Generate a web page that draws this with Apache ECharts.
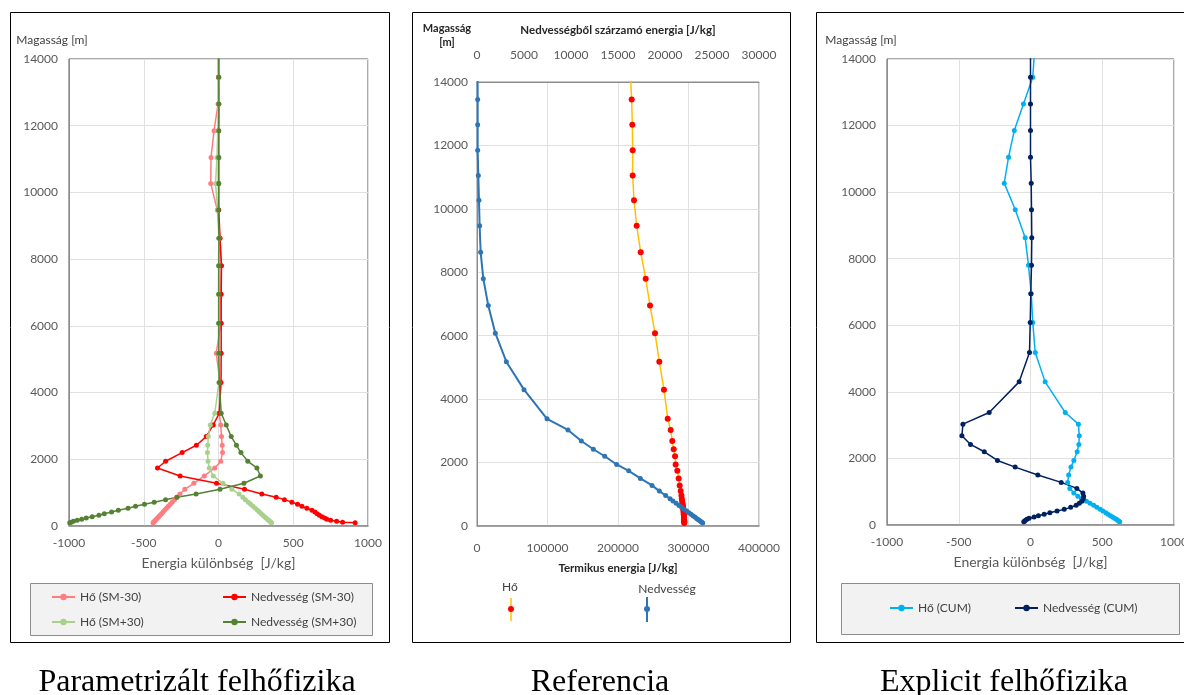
<!DOCTYPE html>
<html><head><meta charset="utf-8">
<script src="https://cdn.jsdelivr.net/npm/echarts@6/dist/echarts.min.js"></script>
<style>html,body{margin:0;padding:0;background:#fff}#c{width:1184px;height:695px}</style>
</head><body><div id="c"></div>
<script>
// Heights of the model levels [m] (first one lies just above the plotted range)
const heights = [14250, 13450, 12650, 11850, 11050, 10270, 9470, 8630, 7800, 6950, 6080, 5180, 4300, 3380, 3030, 2680, 2420, 2200, 1940, 1740, 1500, 1280, 1100, 960, 860, 790, 715, 650, 590, 530, 470, 420, 370, 325, 280, 240, 205, 170, 140, 115, 95];

// Panel 1: Parametrizált felhőfizika  [J/kg]
const hoSMm30  = [0, 0, -3, -30, -50, -52, -8, 10, 18, 15, 16, -15, 10, 5, 15, 20, 25, 27, 15, -25, -95, -165, -225, -258, -280, -294, -310, -323, -336, -348, -361, -371, -381, -391, -400, -408, -416, -423, -429, -434, -438];
const nedSMm30 = [0, 0, 2, 0, 0, 0, 2, 10, 20, 18, 18, 18, 17, 5, -35, -82, -148, -243, -354, -408, -257, -13, 174, 290, 386, 441, 491, 529, 558, 591, 625, 645, 660, 675, 692, 710, 725, 750, 790, 830, 914];
const hoSMp30  = [0, 2, 0, -5, -10, -20, -5, 2, 0, 0, 0, 0, 3, -25, -55, -68, -72, -74, -70, -62, -35, 30, 90, 138, 163, 180, 199, 215, 230, 246, 261, 273, 286, 297, 308, 318, 327, 336, 343, 350, 355];
const nedSMp30 = [2, 2, 2, 2, 2, 2, 0, 3, 2, 2, 2, 2, 5, 18, 52, 85, 120, 150, 196, 257, 280, 170, 10, -150, -278, -354, -430, -495, -555, -605, -670, -715, -764, -800, -845, -885, -915, -945, -970, -985, -995];

// Panel 2: Referencia
const refHo  = [217500, 219400, 220300, 220800, 220800, 222700, 226500, 232200, 239300, 245400, 252500, 258600, 265200, 270500, 274700, 277000, 279000, 280900, 281800, 284100, 286100, 287500, 288900, 290000, 290500, 291000, 291500, 292000, 292300, 292600, 292900, 293100, 293300, 293500, 293600, 293700, 293800, 293900, 294000, 294000, 294000];
const refNed = [60, 70, 70, 70, 140, 210, 280, 390, 670, 1200, 1950, 3120, 5000, 7450, 9680, 11100, 12380, 13590, 14860, 16140, 17380, 18620, 19400, 20070, 20535, 20850, 21190, 21490, 21760, 22030, 22310, 22540, 22770, 22970, 23180, 23360, 23520, 23680, 23810, 23920, 24010];

// Panel 3: Explicit felhőfizika
const cumHo  = [28, 16, -49, -113, -153, -183, -106, -37, -14, 5, 16, 33, 102, 242, 334, 340, 337, 325, 302, 282, 266, 259, 274, 302, 330, 355, 390, 415, 440, 462, 485, 505, 525, 540, 557, 572, 585, 598, 608, 616, 622];
const cumNed = [0, 0, 0, 0, 0, 5, 7, 9, 7, 2, -2, -7, -79, -288, -471, -478, -418, -322, -230, -107, 51, 214, 323, 365, 370, 368, 358, 340, 318, 280, 235, 185, 135, 95, 55, 25, -10, -25, -35, -42, -47];

// Axis ranges [min, max, interval]
const heightAxis = [0, 14000, 2000];
const diffAxis = [-1000, 1000, 500];
const thermAxis = [0, 400000, 100000];
const moistAxis = [0, 30000, 5000];

const captions = ['Parametrizált felhőfizika', 'Referencia', 'Explicit felhőfizika'];

const FONT = 'Lato';
const LBL = {fontFamily: FONT, fontSize: 12, color: '#595959', formatter: v => String(v)};
const pts = vals => vals.map((v, i) => [v, heights[i]]);

function ser(name, vals, lineColor, dotColor, xi, yi, size) {
  return {
    type: 'line', name: name, xAxisIndex: xi, yAxisIndex: yi, data: pts(vals),
    symbol: 'circle', symbolSize: size || 5, showAllSymbol: true,
    lineStyle: {color: lineColor, width: 1.5}, itemStyle: {color: dotColor},
    clip: true, animation: false, emphasis: {disabled: true}
  };
}

function xAx(grid, r, extra) {
  return Object.assign({
    gridIndex: grid, type: 'value', min: r[0], max: r[1], interval: r[2],
    axisLine: {show: true, onZero: false, lineStyle: {color: '#8c8c8c', width: 1.5}},
    axisTick: {show: false},
    axisLabel: Object.assign({margin: 11, hideOverlap: false}, LBL),
    splitLine: {show: true, lineStyle: {color: '#e0e0e0', width: 1}}
  }, extra || {});
}
function yAx(grid, extra) {
  return Object.assign({
    gridIndex: grid, type: 'value', min: heightAxis[0], max: heightAxis[1], interval: heightAxis[2],
    axisLine: {show: true, onZero: false, lineStyle: {color: '#8c8c8c', width: 1}},
    axisTick: {show: false},
    axisLabel: Object.assign({margin: 11}, LBL),
    splitLine: {show: true, lineStyle: {color: '#e0e0e0', width: 1}}
  }, extra || {});
}

const legendText = {fontFamily: FONT, fontSize: 12, color: '#404040', lineHeight: 14};
function leg(names, left, top, orient) {
  return {
    data: names, left: left, top: top, orient: orient || 'vertical', itemGap: 11,
    itemWidth: 23, itemHeight: 8, textStyle: legendText, padding: 0,
    selectedMode: false, inactiveColor: '#ccc'
  };
}

const gridBase = {show: true, borderWidth: 1, backgroundColor: 'transparent', containLabel: false, outerBoundsMode: 'none'};

const option = {
  animation: false,
  backgroundColor: '#ffffff',
  grid: [
    Object.assign({left: 69, width: 299, top: 59, height: 467, borderColor: '#595959'}, gridBase),
    Object.assign({left: 477, width: 282, top: 82, height: 444, borderColor: '#8c8c8c'}, gridBase),
    Object.assign({left: 887, width: 287, top: 59, height: 466, borderColor: '#595959'}, gridBase)
  ],
  xAxis: [
    xAx(0, diffAxis, {name: 'Energia különbség  [J/kg]', nameLocation: 'middle', nameGap: 30,
      nameTextStyle: {fontFamily: FONT, fontSize: 14, color: '#595959'}}),
    xAx(1, thermAxis, {position: 'bottom', name: 'Termikus energia [J/kg]', nameLocation: 'middle', nameGap: 36,
      axisLabel: Object.assign({margin: 16}, LBL),
      nameTextStyle: {fontFamily: FONT, fontSize: 11.5, fontWeight: 'bold', color: '#262626'}}),
    xAx(1, moistAxis, {position: 'top', name: 'Nedvességből szárzamó energia [J/kg]', nameLocation: 'middle', nameGap: 46,
      axisLabel: Object.assign({margin: 21}, LBL), splitLine: {show: false},
      axisLine: {show: true, onZero: false, lineStyle: {color: '#8c8c8c', width: 1}},
      nameTextStyle: {fontFamily: FONT, fontSize: 11.5, fontWeight: 'bold', color: '#262626'}}),
    xAx(2, diffAxis, {name: 'Energia különbség  [J/kg]', nameLocation: 'middle', nameGap: 30,
      nameTextStyle: {fontFamily: FONT, fontSize: 14, color: '#595959'}})
  ],
  yAxis: [
    yAx(0, {name: 'Magasság [m]', nameLocation: 'end', nameGap: 13,
      nameTextStyle: {fontFamily: FONT, fontSize: 12, color: '#404040', align: 'center', padding: [0, 34, 0, 0]}}),
    yAx(1, {name: 'Magasság\n[m]', nameLocation: 'end', nameGap: 20, axisLabel: Object.assign({margin: 9}, LBL),
      nameTextStyle: {fontFamily: FONT, fontSize: 11, fontWeight: 'bold', color: '#262626', align: 'center', lineHeight: 14, padding: [0, 60, 0, 0]}}),
    yAx(2, {name: 'Magasság [m]', nameLocation: 'end', nameGap: 13,
      nameTextStyle: {fontFamily: FONT, fontSize: 12, color: '#404040', align: 'center', padding: [0, 52, 0, 0]}})
  ],
  legend: [
    leg(['Hő (SM-30)', 'Hő (SM+30)'], 51, 590),
    leg(['Nedvesség (SM-30)', 'Nedvesség (SM+30)'], 222, 590),
    leg(['Hő (CUM)'], 889, 601),
    leg(['Nedvesség (CUM)'], 1014, 601)
  ],
  series: [
    ser('Hő (SM-30)', hoSMm30, '#ff7c80', '#ff7c80', 0, 0),
    ser('Nedvesség (SM-30)', nedSMm30, '#ff0000', '#ff0000', 0, 0),
    ser('Hő (SM+30)', hoSMp30, '#a9d18e', '#a9d18e', 0, 0),
    ser('Nedvesség (SM+30)', nedSMp30, '#548235', '#548235', 0, 0),
    ser('Hő', refHo, '#ffc000', '#ff0000', 1, 1, 6),
    Object.assign(ser('Nedvesség', refNed, '#2e75b6', '#2e75b6', 2, 1, 5), {lineStyle: {color: '#2e75b6', width: 2}}),
    ser('Hő (CUM)', cumHo, '#00b0f0', '#00b0f0', 3, 2),
    ser('Nedvesség (CUM)', cumNed, '#002060', '#002060', 3, 2)
  ],
  graphic: [
    // panel frames
    {type: 'rect', shape: {x: 10.5, y: 12.5, width: 379, height: 630}, style: {fill: 'none', stroke: '#000', lineWidth: 1}, z: -1},
    {type: 'rect', shape: {x: 412.5, y: 12.5, width: 378, height: 630}, style: {fill: 'none', stroke: '#000', lineWidth: 1}, z: -1},
    {type: 'rect', shape: {x: 816.5, y: 12.5, width: 380, height: 630}, style: {fill: 'none', stroke: '#000', lineWidth: 1}, z: -1},
    // legend boxes
    {type: 'rect', shape: {x: 30.5, y: 583.5, width: 342, height: 52}, style: {fill: '#f2f2f2', stroke: '#8c8c8c', lineWidth: 1}, z: -1},
    {type: 'rect', shape: {x: 841.5, y: 583.5, width: 338, height: 51}, style: {fill: '#f2f2f2', stroke: '#8c8c8c', lineWidth: 1}, z: -1},
    // panel 2 legend (text above the symbol)
    {type: 'text', x: 510, y: 587, style: {text: 'Hő', font: '12px Lato', fill: '#404040', textAlign: 'center', textVerticalAlign: 'middle'}},
    {type: 'line', shape: {x1: 511, y1: 598, x2: 511, y2: 621}, style: {stroke: '#ffc000', lineWidth: 1.5}},
    {type: 'circle', shape: {cx: 511, cy: 609, r: 3}, style: {fill: '#ff0000'}},
    {type: 'text', x: 667, y: 589, style: {text: 'Nedvesség', font: '12px Lato', fill: '#404040', textAlign: 'center', textVerticalAlign: 'middle'}},
    {type: 'line', shape: {x1: 647, y1: 597, x2: 647, y2: 622}, style: {stroke: '#2e75b6', lineWidth: 2}},
    {type: 'circle', shape: {cx: 647, cy: 609, r: 3}, style: {fill: '#2e75b6'}},
    // captions
    {type: 'text', x: 197, y: 683, style: {text: captions[0], font: '32px "Liberation Serif"', fill: '#000', textAlign: 'center', textVerticalAlign: 'middle'}},
    {type: 'text', x: 600, y: 683, style: {text: captions[1], font: '32px "Liberation Serif"', fill: '#000', textAlign: 'center', textVerticalAlign: 'middle'}},
    {type: 'text', x: 1004, y: 683, style: {text: captions[2], font: '32px "Liberation Serif"', fill: '#000', textAlign: 'center', textVerticalAlign: 'middle'}}
  ]
};

const chart = echarts.init(document.getElementById('c'), null, {renderer: 'canvas'});
chart.setOption(option);
</script>
</body></html>
